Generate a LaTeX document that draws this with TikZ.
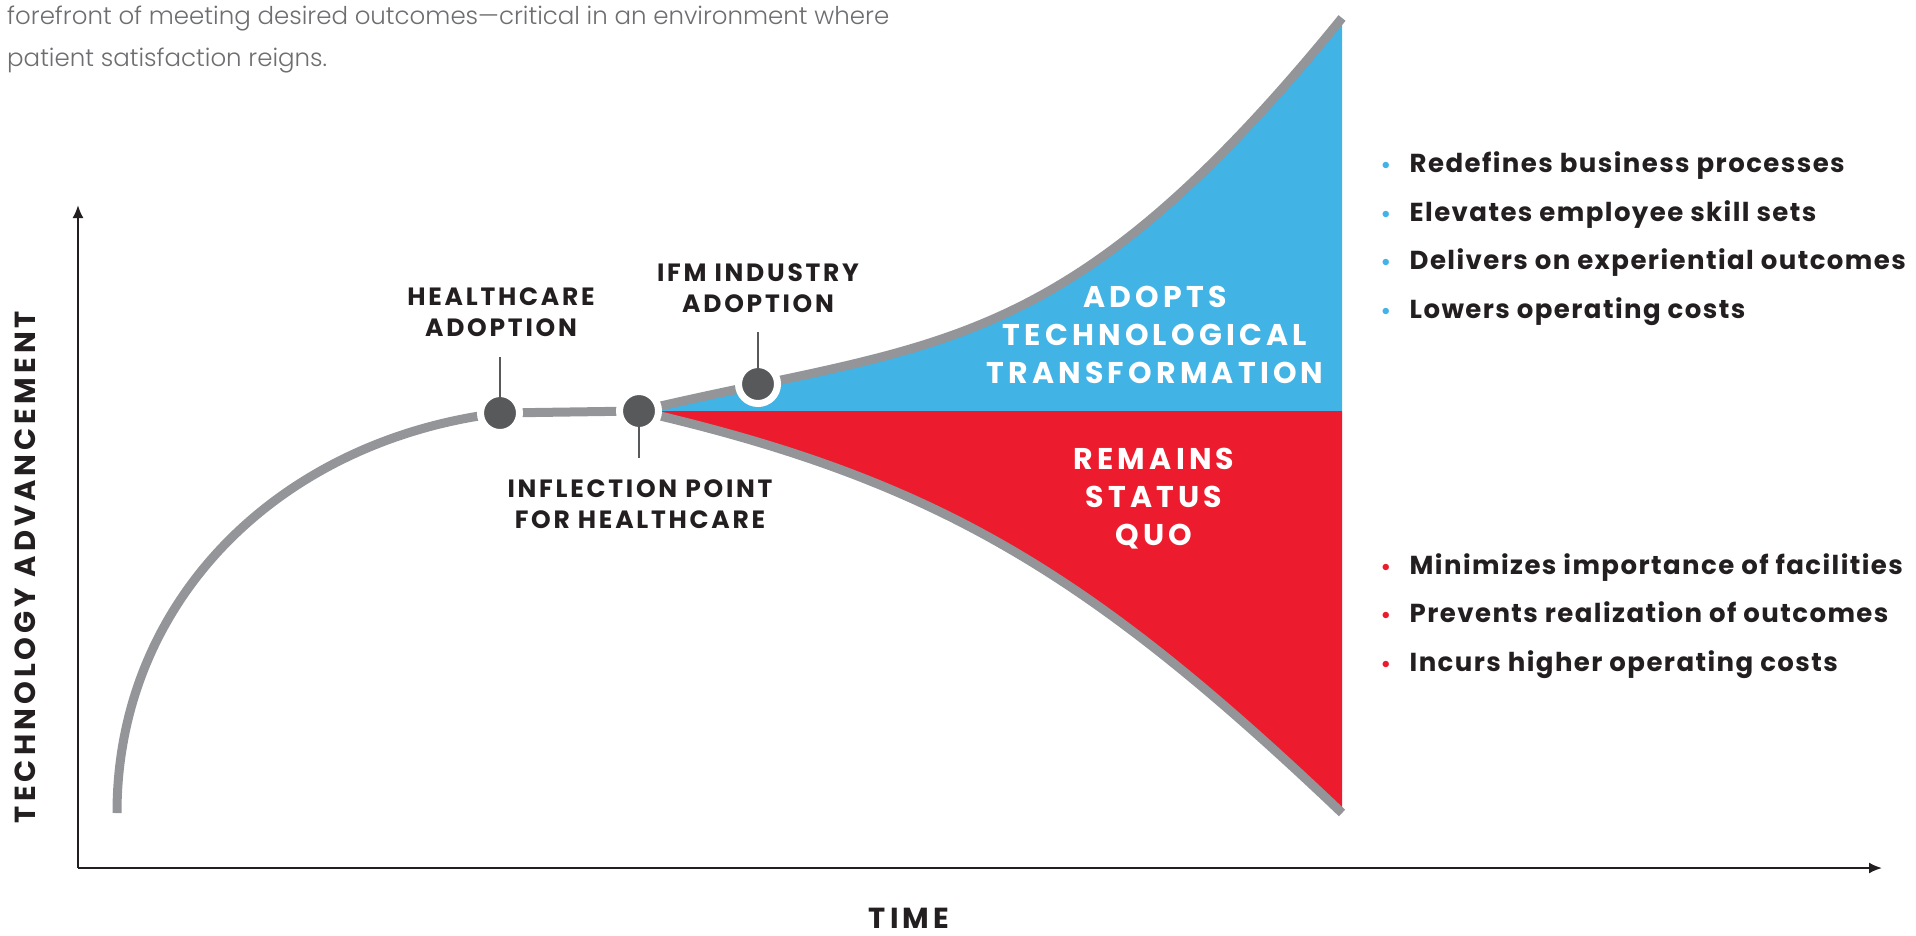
\documentclass[tikz,border=0pt]{standalone}
\usepackage{fontspec}
\setmainfont{Poppins}
\newfontfamily\bodyfont{Poppins}[UprightFont=* Light]
\usetikzlibrary{arrows.meta}

\definecolor{curvegray}{HTML}{939598}
\definecolor{dotgray}{HTML}{58595B}
\definecolor{inkblack}{HTML}{231F20}
\definecolor{skyblue}{HTML}{41B3E5}
\definecolor{alertred}{HTML}{EC1C2E}
\definecolor{bodygray}{HTML}{6D6E71}

% bullet in front of each outcome
\newcommand{\dotmark}[1]{\makebox[29pt][l]{\textcolor{#1}{\fontsize{21}{21}\selectfont\textbullet}}}

\begin{document}
\begin{tikzpicture}[x=1pt, y=-1pt, >={Latex[length=13pt,width=11pt]},
  milestone/.style={circle, fill=dotgray, draw=white, line width=7pt, minimum size=39pt, inner sep=0pt},
  stem/.style={dotgray, line width=2.6pt},
  curve/.style={curvegray, line width=9pt},
  axis/.style={inkblack, line width=2pt},
  tag/.style={text=inkblack, font=\bfseries\fontsize{25}{30.5}\selectfont\addfontfeatures{LetterSpace=11}, align=center, inner sep=0pt},
  zone/.style={text=white, font=\bfseries\fontsize{30}{38}\selectfont\addfontfeatures{LetterSpace=14}, align=center, inner sep=0pt},
  point/.style={text=inkblack, font=\bfseries\fontsize{26}{26}\selectfont\addfontfeatures{LetterSpace=5.5}, anchor=base west, inner sep=0pt},
  axislabel/.style={text=inkblack, font=\bfseries\fontsize{29}{29}\selectfont\addfontfeatures{LetterSpace=14}, inner sep=0pt},
  intro/.style={text=bodygray, font=\bodyfont\fontsize{24.5}{24.5}\selectfont, anchor=base west, inner sep=0pt}]
  \useasboundingbox (0,0) rectangle (1916,935);

  % Intro text
  \node[intro] (intro1) at (7,24) {forefront of meeting desired outcomes—critical in an environment where};
  \node[intro] (intro2) at (7,66) {patient satisfaction reigns.};

  % Points on the curve
  \coordinate (start) at (117,813);
  \coordinate (hcpt) at (500,413);
  \coordinate (infpt) at (639,411);
  \coordinate (ifmpt) at (758,384);
  \coordinate (topend) at (1342,18);
  \coordinate (lowend) at (1342,813);
  \coordinate (edge) at (1342,411);

  % Axes
  \coordinate (origin) at (78,868);
  \coordinate (ytip) at (78,205);
  \coordinate (xtip) at (1882,868);
  \draw[axis, ->] (origin) -- (ytip);
  \draw[axis, ->] (origin) -- (xtip);
  \node[axislabel, rotate=90] (ylabel) at (25,567) {TECHNOLOGY ADVANCEMENT};
  \node[axislabel] (xlabel) at (909,918) {TIME};

  % Two outcomes after the inflection point
  \fill[skyblue] (infpt) .. controls (939,340) and (1062,362) .. (topend) -- (edge) -- cycle;
  \fill[alertred] (infpt) .. controls (939,480) and (1092,575) .. (lowend) -- (edge) -- cycle;

  % Adoption curve
  \draw[curve] (start) .. controls (117,600) and (280,440) .. (hcpt) -- (infpt);
  \draw[curve] (infpt) .. controls (939,340) and (1062,362) .. (topend);
  \draw[curve] (infpt) .. controls (939,480) and (1092,575) .. (lowend);

  % Milestones
  \node[milestone] (hc) at (hcpt) {};
  \node[milestone] (inf) at (infpt) {};
  \node[milestone] (ifm) at (ifmpt) {};

  \coordinate (hctop) at (500,357);
  \coordinate (infbot) at (639,458);
  \coordinate (ifmtop) at (758,332);
  \draw[stem] (hc.center) -- (hctop);
  \draw[stem] (inf.center) -- (infbot);
  \draw[stem] (ifm.center) -- (ifmtop);

  \node[tag] (hclabel) at (501,312) {HEALTHCARE\\ADOPTION};
  \node[tag] (inflabel) at (640,504) {INFLECTION POINT\\FOR HEALTHCARE};
  \node[tag] (ifmlabel) at (758,288) {IFM INDUSTRY\\ADOPTION};

  \node[zone] (adopt) at (1155,335) {ADOPTS\\TECHNOLOGICAL\\TRANSFORMATION};
  \node[zone] (remain) at (1154,499) {REMAINS\\STATUS\\QUO};

  % Outcomes
  \node[point] (good1) at (1380.5,172.5) {\dotmark{skyblue}Redefines business processes};
  \node[point] (good2) at (1380.5,221) {\dotmark{skyblue}Elevates employee skill sets};
  \node[point] (good3) at (1380.5,269.5) {\dotmark{skyblue}Delivers on experiential outcomes};
  \node[point] (good4) at (1380.5,318) {\dotmark{skyblue}Lowers operating costs};

  \node[point] (poor1) at (1380.5,574) {\dotmark{alertred}Minimizes importance of facilities};
  \node[point] (poor2) at (1380.5,622.5) {\dotmark{alertred}Prevents realization of outcomes};
  \node[point] (poor3) at (1380.5,671) {\dotmark{alertred}Incurs higher operating costs};
\end{tikzpicture}
\end{document}
